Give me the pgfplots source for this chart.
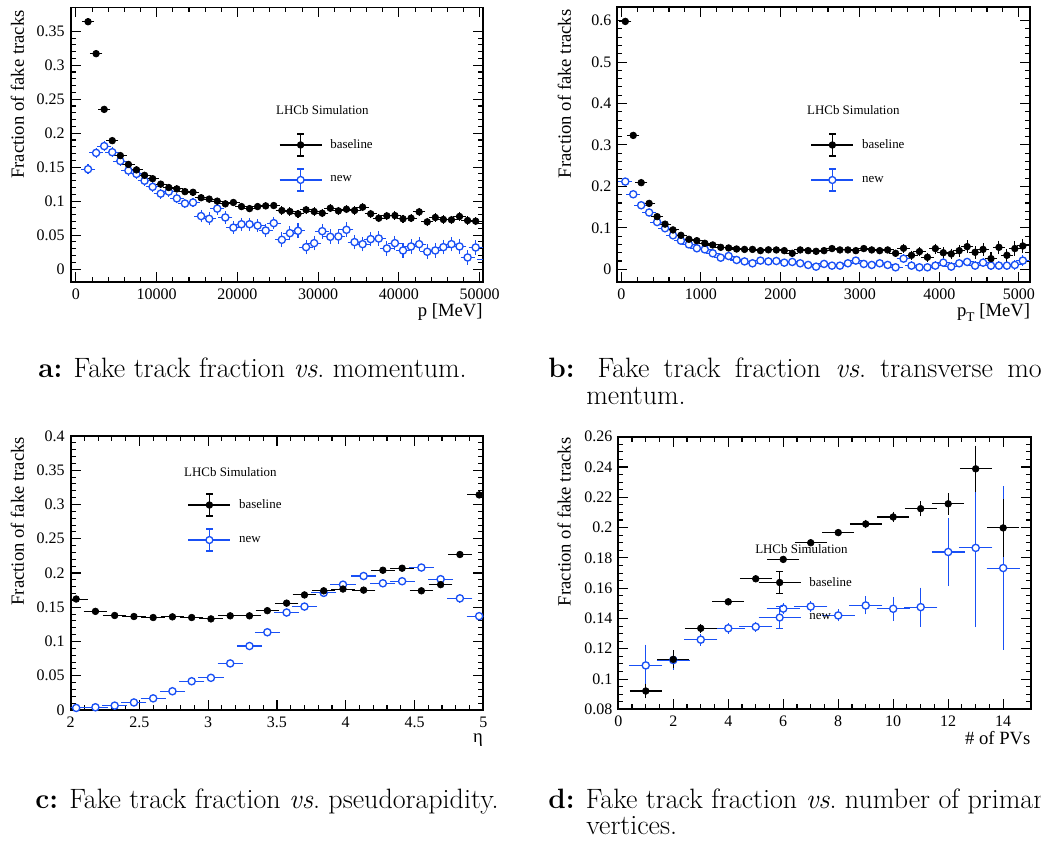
\documentclass[border=0pt]{standalone}
\usepackage{pgfplots}
\pgfplotsset{compat=1.18}
\usepackage{fontspec}
\newfontfamily\rootfont{Liberation Serif}
\definecolor{rblue}{RGB}{25,80,245}
\pgfplotsset{
  rootax/.style={
    scale only axis, anchor=south west,
    axis line style={line width=1.3pt},
    every tick/.append style={black, line width=0.8pt},
    major tick length=7.5pt, minor tick length=3.75pt,
    tick align=inside,
    tick label style={font=\rootfont\fontsize{12}{14}\selectfont, /pgf/number format/assume math mode=true},
    yticklabel style={/pgf/number format/fixed, /pgf/number format/precision=2, inner sep=0pt, xshift=-4.3pt},
    xticklabel style={/pgf/number format/fixed, /pgf/number format/1000 sep={}, inner sep=0pt, yshift=-5pt},
    scaled x ticks=false, scaled y ticks=false,
    label style={font=\rootfont\fontsize{14}{16}\selectfont, inner sep=0pt},
    ylabel={Fraction of fake tracks},
    legend cell align=left,
    reverse legend,
    legend style={draw=none, fill=none, inner sep=0pt, outer sep=0pt, row sep=0pt, column sep=6pt,
      font=\rootfont\fontsize{9.7}{11}\selectfont,
      nodes={inner sep=0pt, minimum height=26.25pt}, anchor=north west},
  },
  legblk/.style={legend image code/.code={
      \draw[black, line width=1.1pt] (0pt,0pt) -- (31.5pt,0pt);
      \draw[black, line width=1.1pt] (15.75pt,-8.25pt) -- (15.75pt,8.25pt);
      \draw[black, line width=1.1pt] (13.25pt,-8.25pt) -- (18.25pt,-8.25pt) (13.25pt,8.25pt) -- (18.25pt,8.25pt);
      \draw[black, mark=*, mark size=2.5pt, only marks] plot coordinates {(15.75pt,0pt)};
  }},
  legblu/.style={legend image code/.code={
      \draw[rblue, line width=1.1pt] (0pt,0pt) -- (31.5pt,0pt);
      \draw[rblue, line width=1.1pt] (15.75pt,-8.25pt) -- (15.75pt,8.25pt);
      \draw[rblue, line width=1.1pt] (13.25pt,-8.25pt) -- (18.25pt,-8.25pt) (13.25pt,8.25pt) -- (18.25pt,8.25pt);
      \draw[rblue, mark=*, mark size=2.6pt, mark options={fill=white, draw=rblue, line width=1pt}, only marks] plot coordinates {(15.75pt,0pt)};
  }},
  blk/.style={black, only marks, mark=*, mark size=2.5pt, mark options={fill=black, draw=black, line width=0.5pt},
    error bars/x dir=both, error bars/x explicit, error bars/y dir=both, error bars/y explicit,
    error bars/error bar style={line width=0.8pt, black},
    error bars/error mark options={mark size=1.6pt, line width=0.8pt, black}},
  blu/.style={rblue, only marks, mark=*, mark size=2.7pt, mark options={fill=white, draw=rblue, line width=1pt},
    error bars/x dir=both, error bars/x explicit, error bars/y dir=both, error bars/y explicit,
    error bars/error bar style={line width=0.8pt, rblue},
    error bars/error mark options={mark size=2.2pt, line width=0.8pt, rblue}},
}
\newcommand{\lhcb}{\rootfont\fontsize{9.7}{11}\selectfont LHCb Simulation}
\begin{document}
\begin{tikzpicture}
\useasboundingbox (0pt,0pt) rectangle (780.75pt,630pt);
\clip (0pt,0pt) rectangle (780.75pt,630pt);

% ---------------- panel a ----------------
\begin{axis}[rootax, at={(53.0pt,418.5pt)}, width=309.2pt, height=205.9pt,
  xmin=-650, xmax=50400, ymin=-0.019, ymax=0.385,
  xtick={0,10000,20000,30000,40000,50000}, minor x tick num=4,
  ytick={0,0.05,0.1,0.15,0.2,0.25,0.3,0.35}, minor y tick num=4,
  xlabel={p [MeV]},
  xlabel style={at={(axis description cs:1,-0.1264)}, anchor=base east},
  ylabel style={at={(axis description cs:-0.1133,0.991)}, anchor=base east},
  legend style={at={(axis description cs:0.505,0.563)}}]
\addplot+[blu, legblu] coordinates {
(1500,0.147) +- (500,0.003) (2500,0.171) +- (500,0.003) (3500,0.181) +- (500,0.003) (4500,0.172) +- (500,0.003)
(5500,0.159) +- (500,0.003) (6500,0.145) +- (500,0.003) (7500,0.140) +- (500,0.003) (8500,0.130) +- (500,0.003)
(9500,0.121) +- (500,0.003) (10500,0.111) +- (500,0.003) (11500,0.114) +- (500,0.003) (12500,0.104) +- (500,0.003)
(13500,0.0965) +- (500,0.003) (14500,0.098) +- (500,0.003) (15500,0.078) +- (500,0.005) (16500,0.074) +- (500,0.005)
(17500,0.089) +- (500,0.005) (18500,0.076) +- (500,0.005) (19500,0.061) +- (500,0.005) (20500,0.066) +- (500,0.005)
(21500,0.066) +- (500,0.005) (22500,0.064) +- (500,0.005) (23500,0.0568) +- (500,0.005) (24500,0.0676) +- (500,0.005)
(25500,0.0431) +- (500,0.0065) (26500,0.0529) +- (500,0.0065) (27500,0.0563) +- (500,0.0065) (28500,0.0323) +- (500,0.0065)
(29500,0.0382) +- (500,0.0065) (30500,0.0558) +- (500,0.0065) (31500,0.0475) +- (500,0.0065) (32500,0.048) +- (500,0.0065)
(33500,0.0578) +- (500,0.0065) (34500,0.0397) +- (500,0.0065) (35500,0.0367) +- (500,0.0065) (36500,0.0441) +- (500,0.0065)
(37500,0.045) +- (500,0.0065) (38500,0.0304) +- (500,0.0065) (39500,0.0382) +- (500,0.0065) (40500,0.0274) +- (500,0.0065)
(41500,0.0333) +- (500,0.0065) (42500,0.0367) +- (500,0.0065) (43500,0.0255) +- (500,0.0065) (44500,0.0274) +- (500,0.0065)
(45500,0.0323) +- (500,0.0065) (46500,0.0367) +- (500,0.0065) (47500,0.0333) +- (500,0.0065) (48500,0.0171) +- (500,0.0065)
(49500,0.0318) +- (500,0.0065) (50500,0.0147) +- (500,0.0065)
};
\addlegendentry{new}
\addplot+[blk, legblk] coordinates {
(1500,0.364) +- (500,0.002) (2500,0.317) +- (500,0.002) (3500,0.235) +- (500,0.002) (4500,0.189) +- (500,0.002)
(5500,0.167) +- (500,0.002) (6500,0.154) +- (500,0.002) (7500,0.146) +- (500,0.002) (8500,0.138) +- (500,0.002)
(9500,0.133) +- (500,0.002) (10500,0.125) +- (500,0.002) (11500,0.120) +- (500,0.002) (12500,0.118) +- (500,0.002)
(13500,0.114) +- (500,0.002) (14500,0.113) +- (500,0.002) (15500,0.105) +- (500,0.002) (16500,0.103) +- (500,0.002)
(17500,0.100) +- (500,0.002) (18500,0.096) +- (500,0.002) (19500,0.098) +- (500,0.002) (20500,0.092) +- (500,0.002)
(21500,0.089) +- (500,0.002) (22500,0.092) +- (500,0.002) (23500,0.093) +- (500,0.002) (24500,0.0935) +- (500,0.002)
(25500,0.0862) +- (500,0.003) (26500,0.0847) +- (500,0.003) (27500,0.0813) +- (500,0.003) (28500,0.0872) +- (500,0.003)
(29500,0.0847) +- (500,0.003) (30500,0.0823) +- (500,0.003) (31500,0.0896) +- (500,0.003) (32500,0.0857) +- (500,0.003)
(33500,0.0881) +- (500,0.003) (34500,0.0862) +- (500,0.003) (35500,0.0911) +- (500,0.003) (36500,0.0813) +- (500,0.003)
(37500,0.0749) +- (500,0.003) (38500,0.0783) +- (500,0.003) (39500,0.0788) +- (500,0.003) (40500,0.0739) +- (500,0.003)
(41500,0.0749) +- (500,0.003) (42500,0.0842) +- (500,0.003) (43500,0.0695) +- (500,0.003) (44500,0.0759) +- (500,0.003)
(45500,0.073) +- (500,0.003) (46500,0.0725) +- (500,0.003) (47500,0.0774) +- (500,0.003) (48500,0.0715) +- (500,0.003)
(49500,0.0705) +- (500,0.003) (50500,0.0676) +- (500,0.003)
};
\addlegendentry{baseline}
\node[anchor=west, inner sep=0pt] at (axis description cs:0.498,0.627) {\lhcb};
\end{axis}

% ---------------- panel b ----------------
\begin{axis}[rootax, at={(463.0pt,418.7pt)}, width=309.75pt, height=205.8pt,
  xmin=-50, xmax=5145, ymin=-0.030, ymax=0.632,
  xtick={0,1000,2000,3000,4000,5000}, minor x tick num=4,
  ytick={0,0.1,0.2,0.3,0.4,0.5,0.6}, minor y tick num=4,
  xlabel={p\raisebox{-0.55ex}{\fontsize{10}{10}\selectfont T} [MeV]},
  xlabel style={at={(axis description cs:1,-0.1276)}, anchor=base east},
  ylabel style={at={(axis description cs:-0.1128,0.9927)}, anchor=base east},
  legend style={at={(axis description cs:0.468,0.562)}}]
\addplot+[blu, legblu] coordinates {
(50,0.2116) +- (50,0.002) (150,0.181) +- (50,0.002) (250,0.1545) +- (50,0.002) (350,0.137) +- (50,0.002)
(450,0.114) +- (50,0.002) (550,0.099) +- (50,0.002) (650,0.082) +- (50,0.002) (750,0.069) +- (50,0.002)
(850,0.060) +- (50,0.002) (950,0.0507) +- (50,0.002) (1050,0.048) +- (50,0.002) (1150,0.0386) +- (50,0.002)
(1250,0.028) +- (50,0.002) (1350,0.032) +- (50,0.002) (1450,0.0225) +- (50,0.002) (1550,0.019) +- (50,0.002)
(1650,0.0145) +- (50,0.002) (1750,0.021) +- (50,0.002) (1850,0.019) +- (50,0.002) (1950,0.020) +- (50,0.002)
(2050,0.016) +- (50,0.002) (2150,0.0177) +- (50,0.002) (2250,0.0145) +- (50,0.002) (2350,0.0105) +- (50,0.002)
(2450,0.0064) +- (50,0.002) (2550,0.0129) +- (50,0.002) (2650,0.0088) +- (50,0.002) (2750,0.0088) +- (50,0.002)
(2850,0.0145) +- (50,0.002) (2950,0.021) +- (50,0.002) (3050,0.0129) +- (50,0.002) (3150,0.0105) +- (50,0.002)
(3250,0.0145) +- (50,0.002) (3350,0.0105) +- (50,0.002) (3450,0.0048) +- (50,0.002) (3550,0.0257) +- (50,0.003)
(3650,0.0088) +- (50,0.003) (3750,0.0048) +- (50,0.003) (3850,0.0048) +- (50,0.003) (3950,0.0088) +- (50,0.003)
(4050,0.016) +- (50,0.003) (4150,0.0064) +- (50,0.003) (4250,0.0145) +- (50,0.003) (4350,0.0177) +- (50,0.003)
(4450,0.0088) +- (50,0.003) (4550,0.016) +- (50,0.003) (4650,0.0088) +- (50,0.003) (4750,0.0088) +- (50,0.003)
(4850,0.0088) +- (50,0.003) (4950,0.0105) +- (50,0.004) (5050,0.021) +- (50,0.006)
};
\addlegendentry{new}
\addplot+[blk, legblk] coordinates {
(50,0.598) +- (50,0.004) (150,0.323) +- (50,0.003) (250,0.209) +- (50,0.003) (350,0.159) +- (50,0.003)
(450,0.127) +- (50,0.002) (550,0.109) +- (50,0.002) (650,0.095) +- (50,0.002) (750,0.082) +- (50,0.002)
(850,0.0724) +- (50,0.002) (950,0.069) +- (50,0.002) (1050,0.0628) +- (50,0.002) (1150,0.0587) +- (50,0.002)
(1250,0.053) +- (50,0.002) (1350,0.0515) +- (50,0.002) (1450,0.049) +- (50,0.002) (1550,0.048) +- (50,0.002)
(1650,0.048) +- (50,0.002) (1750,0.045) +- (50,0.002) (1850,0.047) +- (50,0.002) (1950,0.0467) +- (50,0.002)
(2050,0.045) +- (50,0.002) (2150,0.0386) +- (50,0.002) (2250,0.0467) +- (50,0.002) (2350,0.045) +- (50,0.002)
(2450,0.0434) +- (50,0.002) (2550,0.045) +- (50,0.002) (2650,0.050) +- (50,0.002) (2750,0.0467) +- (50,0.002)
(2850,0.0467) +- (50,0.002) (2950,0.045) +- (50,0.002) (3050,0.050) +- (50,0.003) (3150,0.0467) +- (50,0.003)
(3250,0.045) +- (50,0.003) (3350,0.0467) +- (50,0.003) (3450,0.0386) +- (50,0.004) (3550,0.0507) +- (50,0.006)
(3650,0.0338) +- (50,0.006) (3750,0.0426) +- (50,0.006) (3850,0.029) +- (50,0.006) (3950,0.050) +- (50,0.007)
(4050,0.040) +- (50,0.008) (4150,0.037) +- (50,0.008) (4250,0.045) +- (50,0.009) (4350,0.0547) +- (50,0.01)
(4450,0.041) +- (50,0.01) (4550,0.048) +- (50,0.01) (4650,0.0257) +- (50,0.01) (4750,0.053) +- (50,0.011)
(4850,0.0338) +- (50,0.011) (4950,0.050) +- (50,0.012) (5050,0.0563) +- (50,0.012)
};
\addlegendentry{baseline}
\node[anchor=west, inner sep=0pt] at (axis description cs:0.459,0.626) {\lhcb};
\end{axis}

% ---------------- panel c ----------------
\begin{axis}[rootax, at={(53.0pt,97.5pt)}, width=309.45pt, height=205.5pt,
  xmin=2, xmax=5, ymin=0, ymax=0.4,
  xtick={2,2.5,3,3.5,4,4.5,5}, minor x tick num=4,
  ytick={0,0.05,0.1,0.15,0.2,0.25,0.3,0.35,0.4}, minor y tick num=4,
  xlabel={η},
  xlabel style={at={(axis description cs:1,-0.1204)}, anchor=base east},
  ylabel style={at={(axis description cs:-0.1132,0.9975)}, anchor=base east},
  legend style={at={(axis description cs:0.2836,0.812)}}]
\addplot+[blu, legblu] coordinates {
(2.04,0.003) +- (0.07,0.001) (2.18,0.004) +- (0.07,0.001) (2.32,0.0064) +- (0.07,0.001) (2.46,0.011) +- (0.07,0.001)
(2.60,0.017) +- (0.07,0.001) (2.74,0.0274) +- (0.07,0.001) (2.88,0.042) +- (0.07,0.001) (3.02,0.047) +- (0.07,0.001)
(3.16,0.068) +- (0.07,0.001) (3.30,0.0934) +- (0.07,0.001) (3.43,0.1135) +- (0.07,0.001) (3.57,0.1423) +- (0.07,0.001)
(3.70,0.151) +- (0.07,0.001) (3.84,0.171) +- (0.07,0.001) (3.98,0.183) +- (0.07,0.001) (4.13,0.1956) +- (0.07,0.001)
(4.27,0.185) +- (0.07,0.001) (4.41,0.188) +- (0.07,0.001) (4.55,0.208) +- (0.07,0.001) (4.69,0.191) +- (0.07,0.002)
(4.83,0.163) +- (0.07,0.002) (4.97,0.137) +- (0.07,0.002)
};
\addlegendentry{new}
\addplot+[blk, legblk] coordinates {
(2.04,0.162) +- (0.07,0.001) (2.18,0.144) +- (0.07,0.001) (2.32,0.138) +- (0.07,0.001) (2.46,0.1365) +- (0.07,0.001)
(2.60,0.135) +- (0.07,0.001) (2.74,0.136) +- (0.07,0.001) (2.88,0.135) +- (0.07,0.001) (3.02,0.133) +- (0.07,0.001)
(3.16,0.1375) +- (0.07,0.001) (3.30,0.1375) +- (0.07,0.001) (3.43,0.145) +- (0.07,0.001) (3.57,0.156) +- (0.07,0.001)
(3.70,0.168) +- (0.07,0.001) (3.84,0.174) +- (0.07,0.001) (3.98,0.1766) +- (0.07,0.001) (4.13,0.175) +- (0.07,0.001)
(4.27,0.204) +- (0.07,0.001) (4.41,0.207) +- (0.07,0.001) (4.55,0.174) +- (0.07,0.001) (4.69,0.183) +- (0.07,0.002)
(4.83,0.227) +- (0.07,0.002) (4.97,0.314) +- (0.07,0.002)
};
\addlegendentry{baseline}
\node[anchor=west, inner sep=0pt] at (axis description cs:0.2746,0.8697) {\lhcb};
\end{axis}

% ---------------- panel d ----------------
\begin{axis}[rootax, at={(463.7pt,98.0pt)}, width=309.3pt, height=204.45pt,
  xmin=0, xmax=15, ymin=0.08, ymax=0.26,
  xtick={0,2,4,6,8,10,12,14}, minor x tick num=3,
  ytick={0.08,0.1,0.12,0.14,0.16,0.18,0.2,0.22,0.24,0.26}, minor y tick num=3,
  xlabel={\# of PVs},
  xlabel style={at={(axis description cs:1,-0.1273)}, anchor=base east},
  ylabel style={at={(axis description cs:-0.1154,0.9978)}, anchor=base east},
  legend style={at={(axis description cs:0.3387,0.5294)}}]
\addplot+[blu, legblu] coordinates {
(1,0.109) +- (0.5,0.0118) (2,0.1125) +- (0.5,0.0045) (3,0.126) +- (0.5,0.002) (4,0.1335) +- (0.5,0.0015)
(5,0.1345) +- (0.5,0.0015) (6,0.1465) +- (0.5,0.0015) (7,0.1479) +- (0.5,0.0015) (8,0.142) +- (0.5,0.002)
(9,0.1486) +- (0.5,0.004) (10,0.1464) +- (0.5,0.006) (11,0.1475) +- (0.5,0.011) (12,0.1839) +- (0.5,0.0206)
(13,0.1866) +- (0.5,0.0504) (14,0.1733) +- (0.5,0.052)
};
\addlegendentry{new}
\addplot+[blk, legblk] coordinates {
(1,0.0921) +- (0.5,0.0035) (2,0.113) +- (0.5,0.0045) (3,0.1335) +- (0.5,0.0015) (4,0.151) +- (0.5,0.001)
(5,0.1662) +- (0.5,0.001) (6,0.179) +- (0.5,0.001) (7,0.190) +- (0.5,0.001) (8,0.1967) +- (0.5,0.001)
(9,0.2024) +- (0.5,0.0015) (10,0.207) +- (0.5,0.002) (11,0.2125) +- (0.5,0.0036) (12,0.2157) +- (0.5,0.0057)
(13,0.2388) +- (0.5,0.014) (14,0.1998) +- (0.5,0.0176)
};
\addlegendentry{baseline}
\node[anchor=west, inner sep=0pt] at (axis description cs:0.3315,0.588) {\lhcb};
\end{axis}

% ---------------- captions ----------------
\begin{scope}[every node/.style={inner sep=0pt, anchor=base west, font=\fontsize{21}{25}\selectfont}]
\node at (28.5pt,347.25pt) {\textbf{a:} Fake track fraction \textit{vs}.\ momentum.};
\node at (411pt,347.25pt) {\makebox[376.5pt][s]{\textbf{b:} Fake track fraction \textit{vs}.\ transverse mo-}};
\node at (439.5pt,327pt) {mentum.};
\node at (26.25pt,24pt) {\textbf{c:} Fake track fraction \textit{vs}.\ pseudorapidity.};
\node at (411pt,24pt) {\textbf{d:} Fake track fraction \textit{vs}.\ number of primary};
\node at (439.5pt,4.5pt) {vertices.};
\end{scope}
\end{tikzpicture}
\end{document}
